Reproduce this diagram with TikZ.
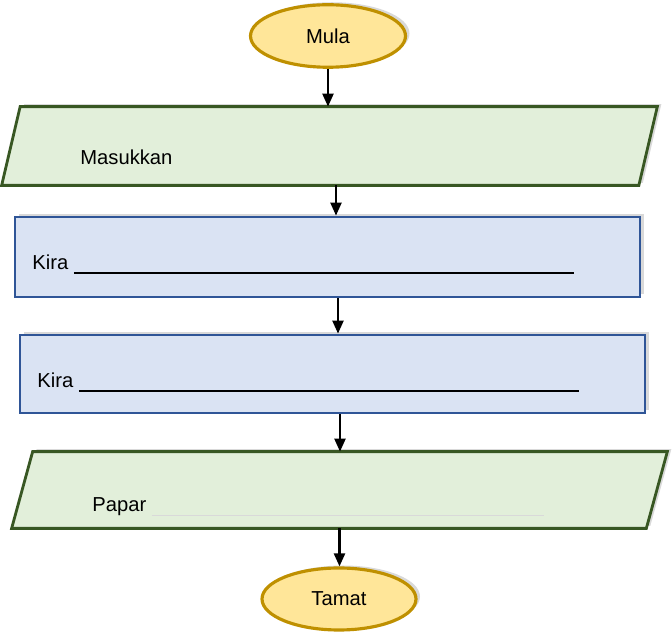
\documentclass[tikz,border=0pt]{standalone}
\usepackage{fontspec}
\setmainfont{Liberation Sans}
\usepackage{tikz}
\usetikzlibrary{positioning, calc, arrows.meta, shadows, shapes.geometric}
\definecolor{termfill}{RGB}{255, 230, 153}
\definecolor{termline}{RGB}{191, 144, 0}
\definecolor{iofill}{RGB}{226, 239, 218}
\definecolor{ioline}{RGB}{56, 87, 35}
\definecolor{procfill}{RGB}{218, 227, 243}
\definecolor{procline}{RGB}{47, 85, 151}
% parallelogram round a (frame) node: #1 node, #2 slant
\newcommand{\drawio}[2]{
    \draw[iobox] ([xshift=#2]#1.north west) -- (#1.north east)
        -- ([xshift=-#2]#1.south east) -- (#1.south west) -- cycle;
}

\begin{document}
\begin{tikzpicture}[
                font=\fontsize{11.5}{13}\selectfont,
                % --- STYLES ---
                % soft shadow (up and right)
                shade/.style={
                    drop shadow={shadow xshift=.08cm, shadow yshift=.05cm, opacity=.3}
                },
                % start / end
                termnode/.style={
                    ellipse, draw=termline, line width=1.8pt, fill=termfill, shade,
                    minimum width=3.1cm, minimum height=1.25cm, inner sep=0pt
                },
                % input / output (frame only, outline drawn by \drawio)
                ionode/.style={
                    rectangle, minimum width=13.1cm, inner sep=0pt
                },
                iobox/.style={
                    draw=ioline, line width=1.6pt, fill=iofill, shade
                },
                % process
                procnode/.style={
                    rectangle, draw=procline, line width=1.6pt, fill=procfill, shade,
                    minimum width=12.5cm, inner sep=0pt
                },
                % label inside a box
                boxtext/.style={anchor=base west, inner sep=0pt},
                % connectors
                arr/.style={-{Triangle[length=0.26cm, width=0.22cm]}, line width=1.3pt, black}
            ]
                \useasboundingbox (0,0) rectangle (13.44,-12.68);

                % --- SHAPES ---
                \node[termnode] (mula) at (6.56,-0.72) {Mula};
                \node[ionode, minimum height=1.56cm] (input) at (6.59,-2.92) {};
                \drawio{input}{0.37cm}
                \node[procnode, minimum height=1.6cm] (kira1) at (6.55,-5.14) {};
                \node[procnode, minimum height=1.56cm] (kira2) at (6.65,-7.48) {};
                \node[ionode, minimum height=1.52cm] (papar) at (6.79,-9.8) {};
                \drawio{papar}{0.42cm}
                \node[termnode, minimum width=3.08cm, minimum height=1.24cm] (tamat) at (6.78,-11.98) {Tamat};

                % --- TEXTS ---
                \node[boxtext] (tinput) at (1.6,-3.3) {Masukkan};
                \node[boxtext] (tkira1) at (0.64,-5.4) {Kira \rule[-2pt]{10cm}{0.6pt}};
                \node[boxtext] (tkira2) at (0.74,-7.76) {Kira \rule[-2pt]{10cm}{0.6pt}};
                \node[boxtext] (tpapar) at (1.84,-10.24) {Papar \textcolor{black!15}{\rule[-2pt]{7.84cm}{0.4pt}}};

                % --- ARROWS ---
                \coordinate (c2) at ([xshift=.13cm]input.south);
                \coordinate (c3) at ([xshift=.21cm]kira1.south);
                \coordinate (c4) at ([xshift=.15cm]kira2.south);
                \draw[arr] (mula.south) -- (mula.south |- input.north);
                \draw[arr] (c2) -- (c2 |- kira1.north);
                \draw[arr] (c3) -- (c3 |- kira2.north);
                \draw[arr] (c4) -- (c4 |- papar.north);
                \draw[arr] (papar.south) -- (papar.south |- tamat.north);

            \end{tikzpicture}
\end{document}
